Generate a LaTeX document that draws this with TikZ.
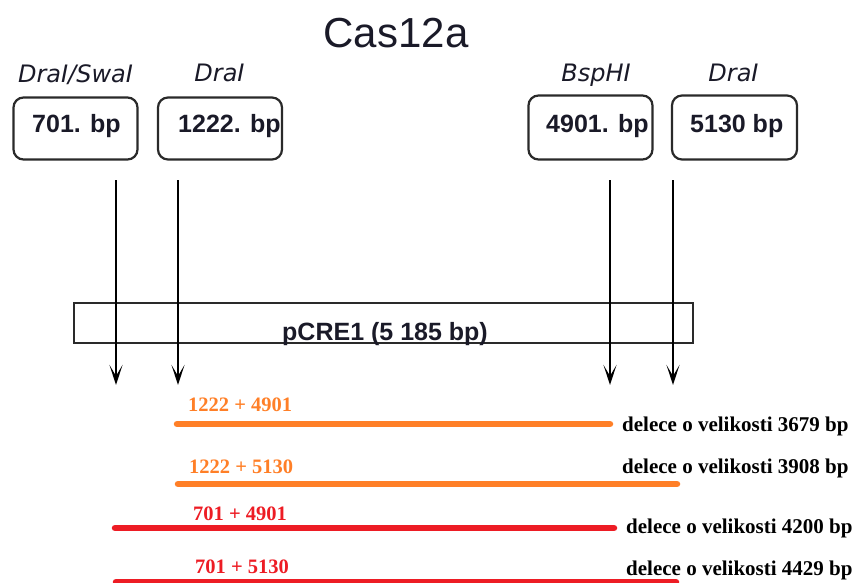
\documentclass[tikz,border=0pt]{standalone}
\usepackage{fontspec}
\setmainfont{Liberation Serif}
\newfontfamily\boxfont{Liberation Sans}
\newfontfamily\labfont{DejaVu Sans}
\usetikzlibrary{arrows.meta}
\definecolor{cOrange}{HTML}{FF7F27}
\definecolor{cRed}{HTML}{ED1C24}
\definecolor{cEdge}{HTML}{2A2A2A}
\definecolor{cText}{HTML}{1A1A28}
\begin{document}
\begin{tikzpicture}[x=1pt,y=-1pt,
  sitebox/.style={draw=cEdge,line width=2.2pt,rounded corners=10pt,inner sep=0pt},
  sitetext/.style={anchor=base west,inner sep=0pt,text=cText,font=\boxfont\bfseries\fontsize{25}{25}\selectfont},
  enzlabel/.style={anchor=base,inner sep=0pt,text=cText,font=\labfont\itshape\fontsize{24}{24}\selectfont},
  cut/.style={draw=black,line width=2pt,-{Stealth[length=20pt,width=13pt,inset=11pt]}},
  sizetext/.style={anchor=base west,inner sep=0pt,font=\bfseries\fontsize{21}{21}\selectfont},
  pairtext/.style={anchor=base west,inner sep=0pt,font=\bfseries\fontsize{20.5}{21}\selectfont},
  delline/.style={line width=6.5pt,line cap=round}
]
\useasboundingbox (0,0) rectangle (854,583);

% title
\node[anchor=base,inner sep=0pt,text=cText,font=\boxfont\fontsize{42}{42}\selectfont] (title) at (396,48) {Cas12a};

% site boxes
\node[sitebox,minimum width=124pt,minimum height=62pt] (b1) at (75.5,128.5) {};
\node[sitebox,minimum width=124pt,minimum height=62pt] (b2) at (220,128.5) {};
\node[sitebox,minimum width=124pt,minimum height=64pt] (b3) at (590.5,127.5) {};
\node[sitebox,minimum width=125pt,minimum height=64pt] (b4) at (734.5,127.5) {};

\node[sitetext] (t1) at (32,133) {701. bp};
\node[sitetext] (t2) at (178,133) {1222. bp};
\node[sitetext] (t3) at (546,133) {4901. bp};
\node[sitetext] (t4) at (690,133) {5130 bp};

% enzyme labels
\node[enzlabel] (e1) at (75.5,83) {DraI/SwaI};
\node[enzlabel] (e2) at (219.5,82) {DraI};
\node[enzlabel] (e3) at (596,82) {BspHI};
\node[enzlabel] (e4) at (733.5,82) {DraI};

% plasmid bar
\node[draw=cEdge,line width=2pt,minimum width=619pt,minimum height=40pt,inner sep=0pt] (bar) at (383.5,323) {};
\node[anchor=base,inner sep=0pt,text=cText,font=\boxfont\bfseries\fontsize{25}{25}\selectfont] (bartext) at (385,340) {pCRE1 (5 185 bp)};

% cut arrows
\coordinate (c1s) at (116,180); \coordinate (c1e) at (116,385);
\coordinate (c2s) at (178,180); \coordinate (c2e) at (178,385);
\coordinate (c3s) at (610,180); \coordinate (c3e) at (610,385);
\coordinate (c4s) at (673,180); \coordinate (c4e) at (673,385);
\draw[cut] (c1s) -- (c1e);
\draw[cut] (c2s) -- (c2e);
\draw[cut] (c3s) -- (c3e);
\draw[cut] (c4s) -- (c4e);

% deletion lines
\coordinate (d1a) at (177,424); \coordinate (d1b) at (610,424);
\coordinate (d2a) at (178,484); \coordinate (d2b) at (677,484);
\coordinate (d3a) at (115,528); \coordinate (d3b) at (614,528);
\coordinate (d4a) at (116,582); \coordinate (d4b) at (676,582);
\draw[delline,cOrange] (d1a) -- (d1b);
\draw[delline,cOrange] (d2a) -- (d2b);
\draw[delline,cRed] (d3a) -- (d3b);
\draw[delline,cRed] (d4a) -- (d4b);

\node[pairtext,text=cOrange] (p1) at (188,411.5) {1222 + 4901};
\node[pairtext,text=cOrange] (p2) at (189,473) {1222 + 5130};
\node[pairtext,text=cRed] (p3) at (193,520) {701 + 4901};
\node[pairtext,text=cRed] (p4) at (195,573) {701 + 5130};

\node[sizetext,text=black] (s1) at (622,431) {delece o velikosti 3679 bp};
\node[sizetext,text=black] (s2) at (622,473) {delece o velikosti 3908 bp};
\node[sizetext,text=black] (s3) at (626,533) {delece o velikosti 4200 bp};
\node[sizetext,text=black] (s4) at (626,575) {delece o velikosti 4429 bp};
\end{tikzpicture}
\end{document}
